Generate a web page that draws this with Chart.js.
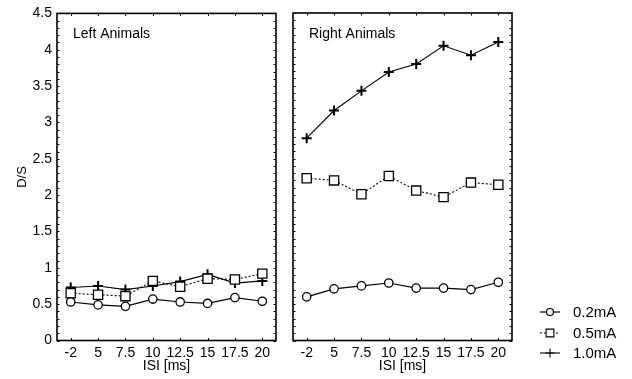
<!DOCTYPE html>
<html>
<head>
<meta charset="utf-8">
<script src="https://cdn.jsdelivr.net/npm/chart.js@4/dist/chart.umd.min.js"></script>
<style>
  html, body { margin: 0; padding: 0; background: #fff; }
  #wrap { position: relative; width: 632px; height: 379px; }
  #leftBox { position: absolute; left: 0; top: 0; width: 285px; height: 379px; }
  #rightBox { position: absolute; left: 285px; top: 0; width: 347px; height: 379px; }
</style>
</head>
<body>
<div id="wrap">
  <div id="leftBox"><canvas id="leftChart"></canvas></div>
  <div id="rightBox"><canvas id="rightChart"></canvas></div>
</div>
<script>
// Data
const isiLabels = ['-2', '5', '7.5', '10', '12.5', '15', '17.5', '20'];
const seriesNames = ['0.2mA', '0.5mA', '1.0mA'];

const left02 = [0.53, 0.49, 0.47, 0.57, 0.53, 0.51, 0.59, 0.54];
const left05 = [0.65, 0.63, 0.61, 0.82, 0.74, 0.85, 0.84, 0.92];
const left10 = [0.73, 0.75, 0.70, 0.75, 0.81, 0.91, 0.79, 0.82];

const right02 = [0.60, 0.71, 0.75, 0.79, 0.72, 0.72, 0.70, 0.80];
const right05 = [2.23, 2.20, 2.01, 2.26, 2.06, 1.97, 2.17, 2.14];
const right10 = [2.78, 3.16, 3.43, 3.69, 3.80, 4.05, 3.92, 4.10];

const yTicks = [0, 0.5, 1, 1.5, 2, 2.5, 3, 3.5, 4, 4.5];

const FONT = "'Liberation Sans', Arial, sans-serif";
Chart.defaults.font.family = FONT;
Chart.defaults.font.size = 14;
Chart.defaults.color = '#000';

function makeDatasets(d02, d05, d10) {
    return [
        {
            label: seriesNames[0], data: d02,
            borderColor: '#000', borderWidth: 1.2,
            pointStyle: 'circle', pointRadius: 4.2,
            pointBackgroundColor: '#fff', pointBorderColor: '#000', pointBorderWidth: 1.3
        },
        {
            label: seriesNames[1], data: d05,
            borderColor: '#000', borderWidth: 1.1, borderDash: [2, 2],
            pointStyle: 'rect', pointRadius: 6.5,
            pointBackgroundColor: '#fff', pointBorderColor: '#000', pointBorderWidth: 1.3
        },
        {
            label: seriesNames[2], data: d10,
            borderColor: '#000', borderWidth: 1.1,
            pointStyle: 'cross', pointRadius: 5,
            pointBackgroundColor: '#000', pointBorderColor: '#000', pointBorderWidth: 2
        }
    ];
}

// frame, inner ticks and panel caption
const framePlugin = {
    id: 'frame',
    afterDraw(chart, args, opts) {
        const c = chart.ctx;
        const a = chart.chartArea;
        const y = chart.scales.y;
        const x = chart.scales.x;
        c.save();
        c.strokeStyle = '#000';
        c.lineWidth = 1;
        c.beginPath();
        for (let v = 0; v <= 45; v++) {
            const py = Math.round(y.getPixelForValue(v / 10)) + 0.5;
            c.moveTo(a.left, py); c.lineTo(a.left + 2.5, py);
            c.moveTo(a.right, py); c.lineTo(a.right - 2.5, py);
        }
        for (let i = 0; i < isiLabels.length; i++) {
            const px = Math.round(x.getPixelForValue(i)) + 0.5;
            c.moveTo(px, a.top); c.lineTo(px, a.top + 2.5);
            c.moveTo(px, a.bottom); c.lineTo(px, a.bottom - 2.5);
        }
        c.stroke();
        c.lineWidth = 1.6;
        c.strokeRect(a.left, a.top, a.right - a.left, a.bottom - a.top);
        c.fillStyle = '#000';
        c.font = '14px ' + FONT;
        c.textBaseline = 'middle';
        c.fillText(opts.caption, a.left + 16, a.top + 21);
        c.restore();
    }
};

// legend drawn in the right padding of the right panel
const legendPlugin = {
    id: 'sideLegend',
    afterDraw(chart) {
        const c = chart.ctx;
        const a = chart.chartArea;
        const rows = [312, 333, 353];
        chart.data.datasets.forEach((ds, i) => {
            const yy = rows[i];
            const x0 = a.right + 28, x1 = a.right + 48;
            c.save();
            c.strokeStyle = '#000';
            c.lineWidth = ds.borderWidth;
            c.setLineDash(ds.borderDash || []);
            c.beginPath();
            c.moveTo(x0, yy); c.lineTo(x1, yy);
            c.stroke();
            c.setLineDash([]);
            c.fillStyle = '#fff';
            Chart.helpers.drawPoint(c, {
                pointStyle: ds.pointStyle,
                radius: ds.pointStyle === 'rect' ? 5.5 : (ds.pointStyle === 'circle' ? 3.5 : 4.5),
                borderWidth: ds.pointStyle === 'cross' ? 1.6 : 1.2,
                rotation: 0
            }, (x0 + x1) / 2, yy);
            c.fillStyle = '#000';
            c.font = '15px ' + FONT;
            c.textBaseline = 'middle';
            c.fillText(ds.label, a.right + 61, yy + 1);
            c.restore();
        });
    }
};

function baseOptions(showY, caption, pad) {
    return {
        responsive: true,
        maintainAspectRatio: false,
        animation: false,
        layout: { padding: pad },
        plugins: {
            legend: { display: false },
            tooltip: { enabled: false },
            frame: { caption: caption }
        },
        scales: {
            x: {
                type: 'category',
                offset: true,
                grid: { display: false, drawTicks: false },
                border: { display: false },
                ticks: { padding: 4, maxRotation: 0, autoSkip: false },
                title: { display: true, text: 'ISI [ms]', padding: { top: 0, bottom: 4 } },
                afterFit(s) { s.height = 38.5; }
            },
            y: {
                display: showY,
                min: 0, max: 4.5,
                afterBuildTicks(s) { s.ticks = yTicks.map(v => ({ value: v })); },
                grid: { display: false, drawTicks: false },
                border: { display: false },
                ticks: { padding: 5, callback: v => String(v) },
                title: { display: true, text: 'D/S', padding: { top: 15, bottom: 0 }, font: { size: 13 } },
                afterFit(s) { s.width = showY ? 57 : 0; }
            }
        }
    };
}

new Chart(document.getElementById('leftChart'), {
    type: 'line',
    data: { labels: isiLabels, datasets: makeDatasets(left02, left05, left10) },
    options: baseOptions(true, 'Left Animals', { left: 0, right: 9, top: 13, bottom: 0 }),
    plugins: [framePlugin]
});

new Chart(document.getElementById('rightChart'), {
    type: 'line',
    data: { labels: isiLabels, datasets: makeDatasets(right02, right05, right10) },
    options: baseOptions(false, 'Right Animals', { left: 8, right: 120, top: 13, bottom: 0 }),
    plugins: [framePlugin, legendPlugin]
});
</script>
</body>
</html>
